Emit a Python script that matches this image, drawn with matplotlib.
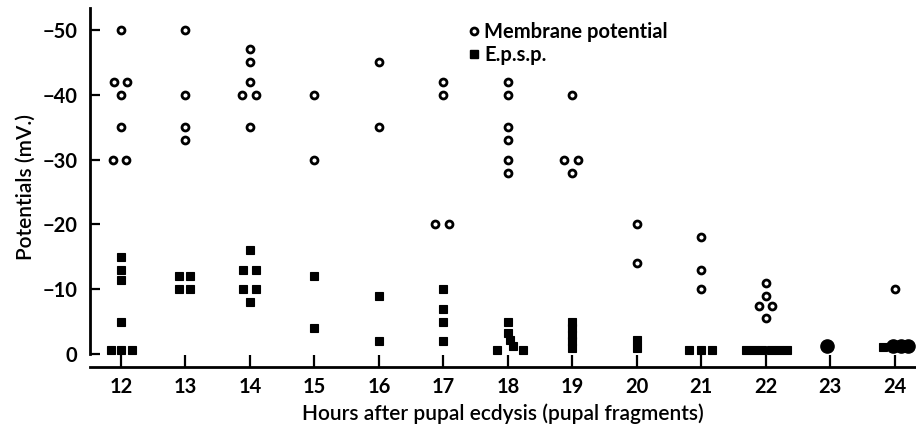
import matplotlib
matplotlib.use("Agg")
import matplotlib.pyplot as plt
from matplotlib.lines import Line2D

plt.rcParams["font.family"] = ["Lato", "DejaVu Sans"]

# Membrane potential (open circles): hour, value (mV)
mp_hours = [12, 12, 12, 12, 12, 12, 12,
            13, 13, 13, 13,
            14, 14, 14, 14, 14, 14,
            15, 15,
            16, 16,
            17, 17, 17, 17,
            18, 18, 18, 18, 18, 18,
            19, 19, 19, 19,
            20, 20,
            21, 21, 21,
            22, 22, 22, 22, 22,
            24]
mp_values = [-50, -42, -42, -40, -35, -30, -30,
             -50, -40, -35, -33,
             -47, -45, -42, -40, -40, -35,
             -40, -30,
             -45, -35,
             -42, -40, -20, -20,
             -42, -40, -35, -33, -30, -28,
             -40, -30, -30, -28,
             -20, -14,
             -18, -13, -10,
             -11, -9, -7.4, -7.4, -5.6,
             -10]

# E.p.s.p. (filled squares): hour, value (mV)
ep_hours = [12, 12, 12, 12, 12, 12, 12,
            13, 13, 13, 13,
            14, 14, 14, 14, 14, 14,
            15, 15,
            16, 16,
            17, 17, 17, 17,
            18, 18, 18, 18, 18, 18,
            19, 19, 19, 19, 19,
            20, 20,
            21, 21, 21,
            22, 22, 22, 22, 22, 22,
            24]
ep_values = [-15, -13, -11.5, -5, -0.7, -0.7, -0.7,
             -12, -12, -10, -10,
             -16, -13, -13, -10, -10, -8,
             -12, -4,
             -9, -2,
             -10, -7, -5, -2,
             -5, -3.2, -2.2, -1.2, -0.7, -0.7,
             -5, -4, -3, -2, -1,
             -2.1, -0.9,
             -0.6, -0.6, -0.6,
             -0.6, -0.6, -0.6, -0.6, -0.6, -0.6,
             -1.1]

# Pooled points drawn as large dots
big_hours = [23, 24, 24, 24]
big_values = [-1.2, -1.2, -1.2, -1.2]

# side-by-side offsets (pixels) so coincident points do not overlap
mp_offsets = [0, -7, 6, 0, 0, -8, 5,
              0, 0, 0, 0,
              0, 0, 0, -8, 6, 0,
              0, 0,
              0, 0,
              0, 0, -8, 6,
              0, 0, 0, 0, 0, 0,
              0, -8, 6, 0,
              0, 0,
              0, 0, 0,
              0, 0, -7, 6, 0,
              0]
ep_offsets = [0, 0, 0, 0, -10, 0, 11,
              -6, 5, -6, 5,
              0, -7, 6, -7, 6, 0,
              0, 0,
              0, 0,
              0, 0, 0, 0,
              0, 0, 2, 5, -11, 15,
              0, 0, 0, 0, 0,
              0, 0,
              -12, 0, 11,
              -20, -12, -4, 5, 13, 21,
              -12]
big_offsets = [-3, -2, 6, 13]

hour_ticks = list(range(12, 25))
mv_ticks = [-50, -40, -30, -20, -10, 0]
mv_labels = ["\u221250", "\u221240", "\u221230", "\u221220", "\u221210", "0"]

W, H = 916, 430
fig = plt.figure(figsize=(W / 100, H / 100), dpi=100)
ax = fig.add_axes([90 / W, 63 / H, 826 / W, 359 / H])

x0, x1 = 11.52, 24.33
px_per_hour = 826 / (x1 - x0)


def shift(hours, offsets):
    return [h + o / px_per_hour for h, o in zip(hours, offsets)]


ax.plot(shift(mp_hours, mp_offsets), mp_values, "o", ls="none", ms=5.0,
        mfc="white", mec="black", mew=2.0, zorder=3)
ax.plot(shift(ep_hours, ep_offsets), ep_values, "s", ls="none", ms=6.4,
        mfc="black", mec="black", mew=0.8, zorder=3)
ax.plot(shift(big_hours, big_offsets), big_values, "o", ls="none", ms=9.5,
        mfc="black", mec="black", zorder=3)

ax.set_xlim(x0, x1)
ax.set_ylim(2.0, -53.4)

for side in ["top", "right"]:
    ax.spines[side].set_visible(False)
ax.spines["left"].set_linewidth(2.0)
ax.spines["bottom"].set_linewidth(2.0)
ax.spines["left"].set_bounds(0, -53.4)

ax.set_xticks(hour_ticks)
ax.set_xticklabels([str(h) for h in hour_ticks])
ax.set_yticks(mv_ticks)
ax.set_yticklabels(mv_labels)
ax.tick_params(axis="x", direction="in", length=9, width=1.6, pad=7,
               labelsize=14.5)
ax.tick_params(axis="y", direction="in", length=7, width=1.6, pad=9,
               labelsize=14.5)
for lab in ax.get_xticklabels() + ax.get_yticklabels():
    lab.set_fontweight("bold")

ax.set_xlabel("Hours after pupal ecdysis (pupal fragments)", fontsize=15,
              fontweight="semibold", labelpad=5)
ax.set_ylabel("Potentials (mV.)", fontsize=15, fontweight="semibold",
              labelpad=5)

handles = [
    Line2D([], [], marker="o", ls="none", ms=5.0, mfc="white", mec="black",
           mew=2.0, label="Membrane potential"),
    Line2D([], [], marker="s", ls="none", ms=6.4, mfc="black", mec="black",
           label="E.p.s.p."),
]
leg = ax.legend(handles=handles, loc="upper left",
                bbox_to_anchor=((458 - 90) / 826, (367 - 14) / 359),
                frameon=False, handletextpad=0.1, handlelength=0.8,
                borderaxespad=0, labelspacing=0.15, fontsize=14.5)
for t in leg.get_texts():
    t.set_fontweight("bold")

fig.savefig("out.png", dpi=100)
